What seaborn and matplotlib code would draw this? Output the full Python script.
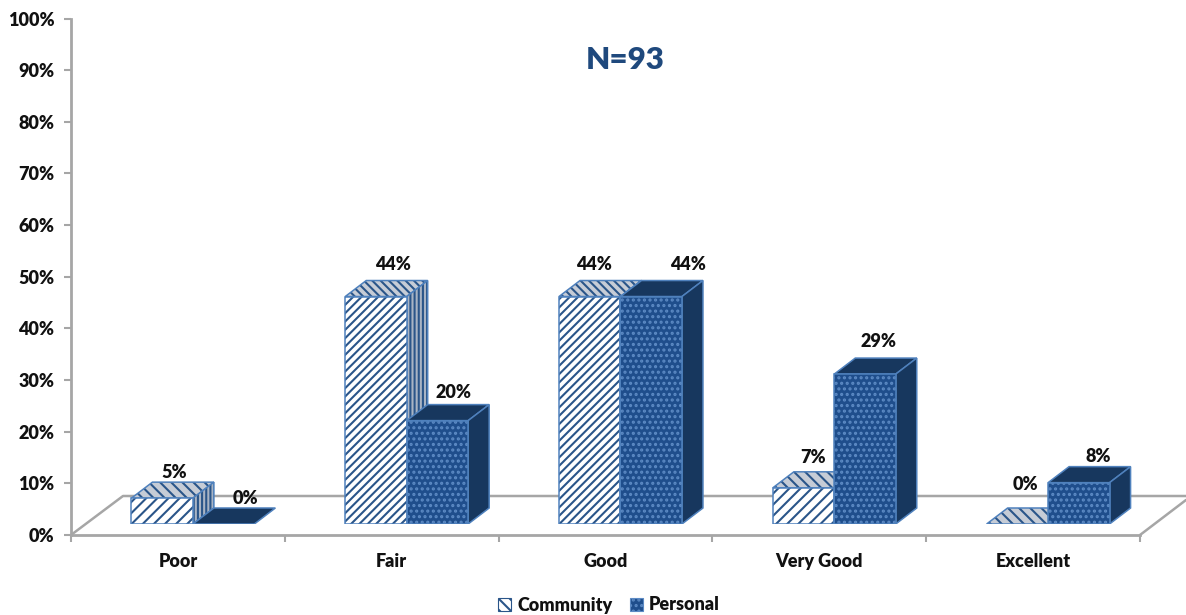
import matplotlib
matplotlib.use("Agg")
import matplotlib.pyplot as plt
import pandas as pd
import seaborn as sns
from matplotlib.patches import Patch, Polygon, Rectangle

# Values
ratings = ["Poor", "Fair", "Good", "Very Good", "Excellent"]
community = [5, 44, 44, 7, 0]
personal = [0, 20, 44, 29, 8]
y_ticks = [0, 10, 20, 30, 40, 50, 60, 70, 80, 90, 100]
series_names = ["Community", "Personal"]
title_text = "N=93"

W, H = 1186, 615
GRID = "#a6a6a6"
NAVY = "#1f4e8c"
DARK = "#17375e"
EDGE = "#4f81bd"
STRIPE = "#2a5589"
DOTS = "#5c8ac4"
TEXT = "#111111"

sns.set_theme(style="white")
plt.rcParams["font.family"] = ["Lato", "DejaVu Sans"]
plt.rcParams["font.weight"] = "heavy"
plt.rcParams["hatch.linewidth"] = 1.5

df = pd.DataFrame({
    "rating": ratings * 2,
    "share": community + personal,
    "series": [series_names[0]] * 5 + [series_names[1]] * 5,
})

fig = plt.figure(figsize=(W / 100, H / 100), dpi=100)


def px_axes(left, right, top, bottom):
    return fig.add_axes([left / W, 1 - bottom / H, (right - left) / W, (bottom - top) / H])


# Frame axes: spines, ticks and labels
frame = px_axes(71, 1140, 18.5, 535)
frame.set_xlim(-0.5, 4.5)
frame.set_ylim(0, 100)
frame.set_yticks(y_ticks)
frame.set_yticklabels([f"{v}%" for v in y_ticks], fontsize=13, color=TEXT, fontweight="heavy")
frame.set_xticks(range(5))
frame.set_xticklabels(ratings, fontsize=13, color=TEXT, fontweight="heavy")
frame.set_xticks([-0.5, 0.5, 1.5, 2.5, 3.5, 4.5], minor=True)
frame.tick_params(axis="y", length=5, width=1.5, color=GRID, left=True, pad=7)
frame.tick_params(axis="x", which="major", length=0, pad=13)
frame.tick_params(axis="x", which="minor", length=5, width=1.5, color=GRID, bottom=True)
sns.despine(ax=frame)
for side in ["left", "bottom"]:
    frame.spines[side].set_color(GRID)
    frame.spines[side].set_linewidth(2)

# Floor of the fake 3D box, in pixel terms of the frame
to_x = lambda px: -0.5 + (px - 71) / 213.8
to_y = lambda px: (535 - px) / 5.165
floor_kw = dict(color=GRID, lw=1.8, clip_on=False)
frame.plot([to_x(71), to_x(123), to_x(1186)], [to_y(535), to_y(496), to_y(496)], **floor_kw)
frame.plot([to_x(1140), to_x(1186)], [to_y(535), to_y(500)], **floor_kw)

# Bars sit on the raised floor, so they get their own shifted axes
ax = px_axes(86, 1155, 7, 524)
ax.patch.set_alpha(0)
sns.barplot(data=df, x="rating", y="share", hue="series", order=ratings,
            hue_order=series_names, width=0.575, gap=0, dodge=True,
            legend=False, ax=ax)
ax.set_xlim(-0.5, 4.5)
ax.set_ylim(0, 100)
ax.axis("off")

dx = 21 / 213.8
dy = 16 / 5.17
label_nudge = {
    0: [(12, 26), (22, 26)],
    1: [(17, 32), (16, 28)],
    2: [(4, 32), (37, 32)],
    3: [(9, 30), (13, 33)],
    4: [(8, 39), (19, 26)],
}

for s, bars in enumerate(ax.containers):
    for i, bar in enumerate(bars):
        x0, w, h = bar.get_x(), bar.get_width(), bar.get_height()
        x1 = x0 + w
        if s == 0:
            tall = i in (1, 2)
            bar.set(facecolor="white", edgecolor=STRIPE, hatch="////" if tall else "///",
                    linewidth=0, zorder=5)
            top_kw = dict(facecolor="#c6ccd6", edgecolor=STRIPE,
                          hatch="\\\\\\\\" if tall else "\\\\\\", linewidth=0, zorder=2)
            side_kw = dict(facecolor="#a9b4c4", edgecolor=STRIPE, hatch="||||", linewidth=0, zorder=2)
        else:
            bar.set(facecolor=NAVY, edgecolor=DOTS, hatch="...", linewidth=0, zorder=5)
            top_kw = dict(facecolor=DARK, edgecolor=DARK, linewidth=0, zorder=3)
            side_kw = dict(facecolor=DARK, edgecolor=DARK, linewidth=0, zorder=3)

        outline = dict(fill=False, edgecolor=EDGE, linewidth=1.1)
        top_pts = [(x0, h), (x1, h), (x1 + dx, h + dy), (x0 + dx, h + dy)]
        ax.add_patch(Polygon(top_pts, **top_kw))
        ax.add_patch(Polygon(top_pts, zorder=top_kw["zorder"], **outline))
        if h > 0:
            side_pts = [(x1, 0), (x1 + dx, dy), (x1 + dx, h + dy), (x1, h)]
            ax.add_patch(Polygon(side_pts, **side_kw))
            ax.add_patch(Polygon(side_pts, zorder=side_kw["zorder"], **outline))
            ax.add_patch(Rectangle((x0, 0), w, h, zorder=6, **outline))

        value = (community, personal)[s][i]
        ax.annotate(f"{value}%", (x0 + w / 2, h), xytext=label_nudge[i][s],
                    textcoords="offset pixels", ha="center", va="center",
                    fontsize=13, fontweight="heavy", color=TEXT, zorder=8)

fig.text(625 / W, 1 - 60 / H, title_text, ha="center", va="center",
         fontsize=22.5, fontweight="heavy", color="#1f497d")

handles = [
    Patch(facecolor="white", edgecolor=STRIPE, hatch="\\\\\\", linewidth=0.8),
    Patch(facecolor=NAVY, edgecolor=DOTS, hatch="...", linewidth=0.8),
]
fig.legend(handles, series_names, loc="center", bbox_to_anchor=(609 / W, 1 - 605 / H),
           ncol=2, frameon=False, fontsize=13, handlelength=0.72, handleheight=0.72,
           handletextpad=0.35, columnspacing=0.95, borderpad=0, labelcolor=TEXT)

fig.savefig("out.png", dpi=100)
